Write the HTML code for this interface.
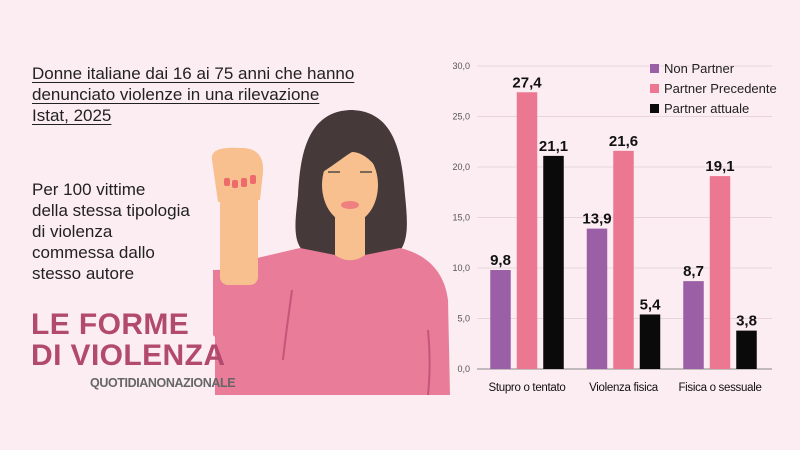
<!DOCTYPE html>
<html><head><meta charset="utf-8"><style>
body{margin:0;width:800px;height:450px;background:#fcedf2;overflow:hidden;position:relative;font-family:"Liberation Sans",sans-serif}
.t{position:absolute;color:#222;z-index:2}
</style></head><body>
<svg style="position:absolute;left:0;top:0;z-index:1" width="800" height="450">
<path d="M350 110 C305 112 300 160 298 195 C295 225 290 250 315 258 L390 258 C410 250 408 225 405 195 C402 155 395 110 350 110Z" fill="#46393a"/>
<path d="M215 395 L215 300 C215 280 222 268 240 262 L300 248 L350 258 L400 248 C430 255 445 275 448 300 L450 395Z" fill="#e87c99"/>
<path d="M213 270 L213 335 C220 345 265 345 280 338 L285 268Z" fill="#e87c99"/>
<path d="M292 290 C288 320 285 340 283 360" stroke="#c55579" stroke-width="2" fill="none"/>
<path d="M428 330 C430 350 430 375 428 395" stroke="#c55579" stroke-width="2" fill="none"/>
<rect x="220" y="190" width="38" height="95" rx="8" fill="#f8c08e"/>
<path d="M212 160 C210 148 225 147 242 148 C258 148 264 158 263 172 L260 200 L218 202 Z" fill="#f8c08e"/>
<rect x="224" y="178" width="6" height="8" rx="2" fill="#ee6b6b"/><rect x="232" y="180" width="6" height="8" rx="2" fill="#ee6b6b"/><rect x="241" y="178" width="6" height="9" rx="2" fill="#ee6b6b"/><rect x="250" y="175" width="6" height="9" rx="2" fill="#ee6b6b"/>
<path d="M335 210 L365 210 L365 255 C355 262 345 262 335 255Z" fill="#f8c08e"/>
<ellipse cx="350" cy="185" rx="28" ry="38" fill="#f8c08e"/>
<path d="M318 175 C325 135 340 135 350 140 C365 135 385 150 382 175 C372 160 362 152 352 152 C342 158 330 168 318 175Z" fill="#46393a"/>
<ellipse cx="350" cy="205" rx="9" ry="4" fill="#ef8080"/>
<path d="M328 172 h12 M360 172 h12" stroke="#333" stroke-width="1.2"/>
</svg>
<div class="t" style="left:32px;top:63px;font-size:17px;line-height:21px;text-decoration:underline;text-decoration-thickness:1px;text-underline-offset:3px">Donne italiane dai 16 ai 75 anni che hanno<br>denunciato violenze in una rilevazione<br>Istat, 2025</div>
<div class="t" style="left:32px;top:179px;font-size:17px;line-height:21px">Per 100 vittime<br>della stessa tipologia<br>di violenza<br>commessa dallo<br>stesso autore</div>
<div class="t" style="left:31px;top:309px;font-size:30px;line-height:31px;font-weight:bold;color:#b24a6e;letter-spacing:0.4px">LE FORME<br>DI VIOLENZA</div>
<div class="t" style="left:90px;top:376px;font-size:12.5px;font-weight:bold;color:#666;letter-spacing:-0.4px">QUOTIDIANONAZIONALE</div>
<svg id="ch" style="position:absolute;left:0;top:0;z-index:3" width="800" height="450"></svg>
<script>
const categories=["Stupro o tentato","Violenza fisica","Fisica o sessuale"];
const seriesNames=["Non Partner","Partner Precedente","Partner attuale"];
const nonPartner=[9.8,13.9,8.7];
const partnerPrecedente=[27.4,21.6,19.1];
const partnerAttuale=[21.1,5.4,3.8];
const ticks=[0,5,10,15,20,25,30];
const colors=["#9b5fa5","#ec7790","#0a0a0a"];
const svg=document.getElementById('ch');const NS="http://www.w3.org/2000/svg";
function y(v){return 369-v*10.1;}
function gx(i){return 527+i*96.5;}
function mk(t,a,txt){const e=document.createElementNS(NS,t);for(const k in a)e.setAttribute(k,a[k]);if(txt!==undefined)e.textContent=txt;svg.appendChild(e);return e;}
ticks.forEach(t=>{
 const l=mk('line',{x1:477,x2:772,y1:y(t),y2:y(t),stroke:t==0?'#888':'#e6d6dc','stroke-width':1});
 
 
 const tx=mk('text',{x:470,y:y(t)+3,'text-anchor':'end','font-size':9,fill:'#555'},t.toFixed(1).replace('.',','));
 
 
});
const series=[nonPartner,partnerPrecedente,partnerAttuale];
categories.forEach((c,i)=>{
 series.forEach((s,j)=>{
  const cx=gx(i)+(j-1)*26.5;
  const r=mk('rect',{x:cx-10.25,y:y(s[i]),width:20.5,height:y(0)-y(s[i]),fill:colors[j]});
  
  
  const v=mk('text',{x:cx,y:y(s[i])-5,'text-anchor':'middle','font-size':15,'font-weight':'bold',fill:'#111'},s[i].toFixed(1).replace('.',','));
  
  
 });
 const cl=mk('text',{x:gx(i),y:391,'text-anchor':'middle','font-size':11.5,fill:'#111','letter-spacing':'-0.3'},c);
 
 
});
seriesNames.forEach((n,j)=>{
 const r=mk('rect',{x:650,y:64+j*20,width:9,height:9,fill:colors[j]});
 
 
 const t=mk('text',{x:664,y:73+j*20,'font-size':13,fill:'#222'},n);
 
 
});
</script>
</body></html>
